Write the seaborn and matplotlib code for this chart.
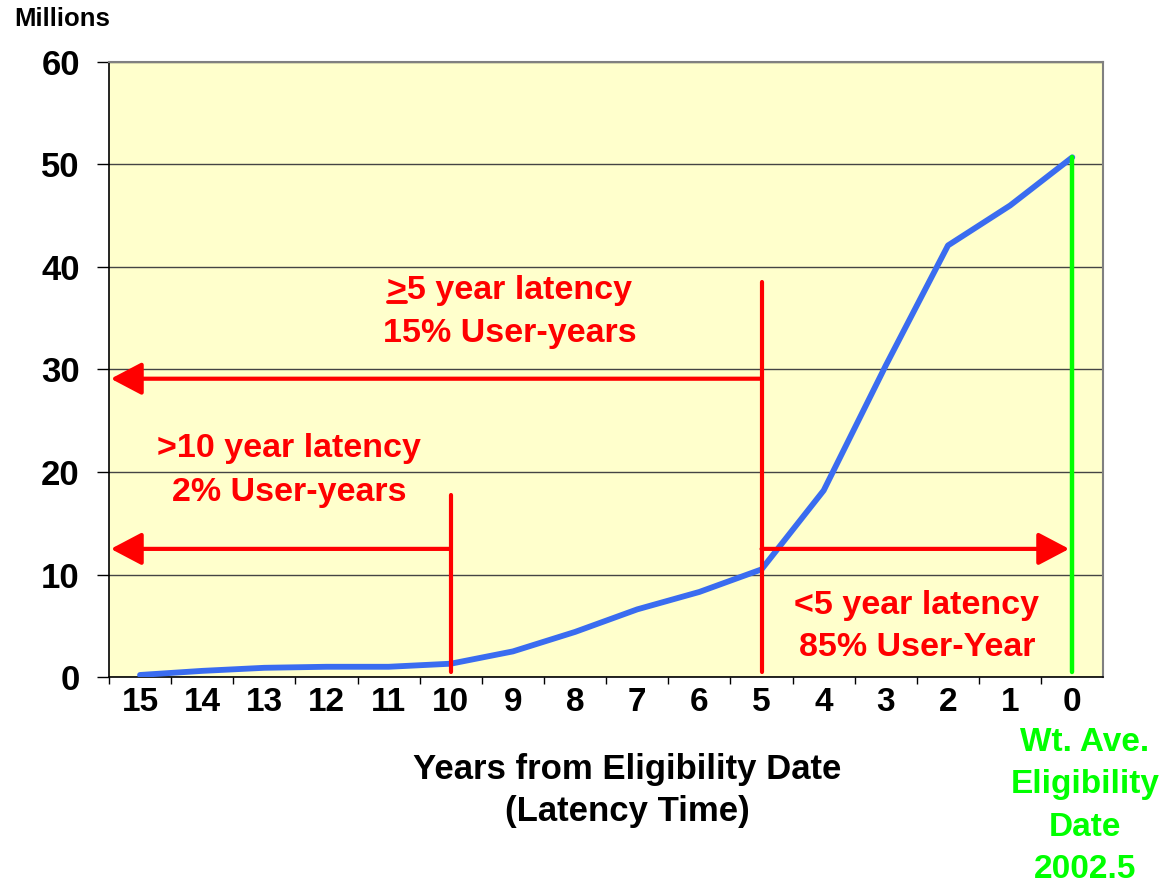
import matplotlib
matplotlib.use("Agg")
import matplotlib.pyplot as plt
import seaborn as sns
import pandas as pd

# values
years = [15, 14, 13, 12, 11, 10, 9, 8, 7, 6, 5, 4, 3, 2, 1, 0]
users_millions = [0.2, 0.6, 0.9, 1.0, 1.0, 1.3, 2.5, 4.4, 6.6, 8.3, 10.5, 18.2, 30.4, 42.1, 46.0, 50.7]
y_ticks = [0, 10, 20, 30, 40, 50, 60]

# annotation values
cut_10_top = 17.8
cut_5_top = 38.5
arrow_10_y = 12.5
arrow_5_y = 29.1
arrow_lt5_y = 12.5
wt_ave_top = 50.7

x_title = ["Years from Eligibility Date", "(Latency Time)"]
wt_ave_lines = ["Wt. Ave.", "Eligibility", "Date", "2002.5"]

sns.set_theme(style="white")
plt.rcParams['font.family'] = ['Liberation Sans', 'DejaVu Sans']
plt.rcParams['font.weight'] = 'bold'

df = pd.DataFrame({"years": years, "users": users_millions})

fig = plt.figure(figsize=(11.59, 8.85), dpi=100)
ax = fig.add_axes([0.094, 0.235, 0.858, 0.695])
ax.set_facecolor('#FFFFCC')

sns.lineplot(data=df, x="years", y="users", color='#3A6CF0', linewidth=4.2, ax=ax,
             solid_capstyle='round', solid_joinstyle='round', zorder=4)

ax.set_xlim(15.5, -0.5)
ax.set_ylim(0, 60)
ax.set_yticks(y_ticks)
ax.set_yticklabels([str(v) for v in y_ticks], fontsize=25, fontweight='bold', color='black')
ax.set_xticks(years)
ax.set_xticklabels([str(v) for v in years], fontsize=24, fontweight='bold', color='black')
ax.set_xticks([y + 0.5 for y in years], minor=True)
ax.tick_params(axis='x', which='major', length=0, pad=7)
ax.tick_params(axis='x', which='minor', length=5, width=1, color='black', direction='out', bottom=True)
ax.tick_params(axis='y', length=9, width=1, color='black', direction='out', left=True, pad=12)
ax.grid(axis='y', color='#444444', linewidth=1)
ax.set_axisbelow(True)
for side in ['left', 'bottom']:
    ax.spines[side].set_color('black')
    ax.spines[side].set_linewidth(1.2)
for side in ['top', 'right']:
    ax.spines[side].set_color('#808080')
    ax.spines[side].set_linewidth(1.5)
ax.set_xlabel("")
ax.set_ylabel("")

red = '#FF0000'
green = '#00FF00'
arrow_kw = dict(arrowstyle='-|>,head_length=0.95,head_width=0.5', color=red, lw=3,
                mutation_scale=20, shrinkA=0, shrinkB=0)

# vertical markers
ax.plot([10, 10], [0.5, cut_10_top], color=red, lw=3, zorder=5)
ax.plot([5, 5], [0.5, cut_5_top], color=red, lw=3, zorder=5)
ax.plot([0, 0], [0.5, wt_ave_top], color=green, lw=3.2, zorder=5)

# arrows
ax.annotate('', xy=(15.47, arrow_10_y), xytext=(10, arrow_10_y), arrowprops=arrow_kw, zorder=5)
ax.annotate('', xy=(15.47, arrow_5_y), xytext=(5, arrow_5_y), arrowprops=arrow_kw, zorder=5)
ax.annotate('', xy=(0.05, arrow_lt5_y), xytext=(5, arrow_lt5_y), arrowprops=arrow_kw, zorder=5)

# texts
txt = dict(color=red, fontsize=24.5, fontweight='bold', ha='center', va='center')
ax.text(12.6, 22.3, ">10 year latency", **txt)
ax.text(12.6, 18.0, "2% User-years", **txt)
t_ge = ax.text(9.05, 37.7, ">5 year latency", **txt)
ax.text(9.05, 33.5, "15% User-years", **txt)
ax.text(2.5, 7.0, "<5 year latency", **txt)
ax.text(2.5, 2.9, "85% User-Year", **txt)

# underline the ">" of the ">5 year latency" line (reads as greater-or-equal)
fig.canvas.draw()
renderer = fig.canvas.get_renderer()
bb = t_ge.get_window_extent(renderer)
probe = fig.text(0, 0, ">", fontsize=24.5, fontweight='bold')
gt_w = probe.get_window_extent(renderer).width
probe.remove()
inv = fig.transFigure.inverted()
x0, y0 = inv.transform((bb.x0 + 1, bb.y0 + 4))
x1, _ = inv.transform((bb.x0 + gt_w - 1, bb.y0 + 4))
fig.add_artist(plt.Line2D([x0, x1], [y0, y0], color=red, lw=2.8))

# axis title under the category labels
for line, yy in zip(x_title, [0.130, 0.0825]):
    fig.text(0.541, yy, line, fontsize=25, fontweight='bold', color='black',
             ha='center', va='center')

# green note under the 0 category
for line, yy in zip(wt_ave_lines, [0.161, 0.1135, 0.065, 0.018]):
    fig.text(0.936, yy, line, color=green, fontsize=24, fontweight='bold',
             ha='center', va='center')

fig.text(0.012, 0.979, "Millions", fontsize=18.5, fontweight='bold', ha='left', va='center',
         color='black')

fig.savefig("out.png", dpi=100, facecolor='white')
